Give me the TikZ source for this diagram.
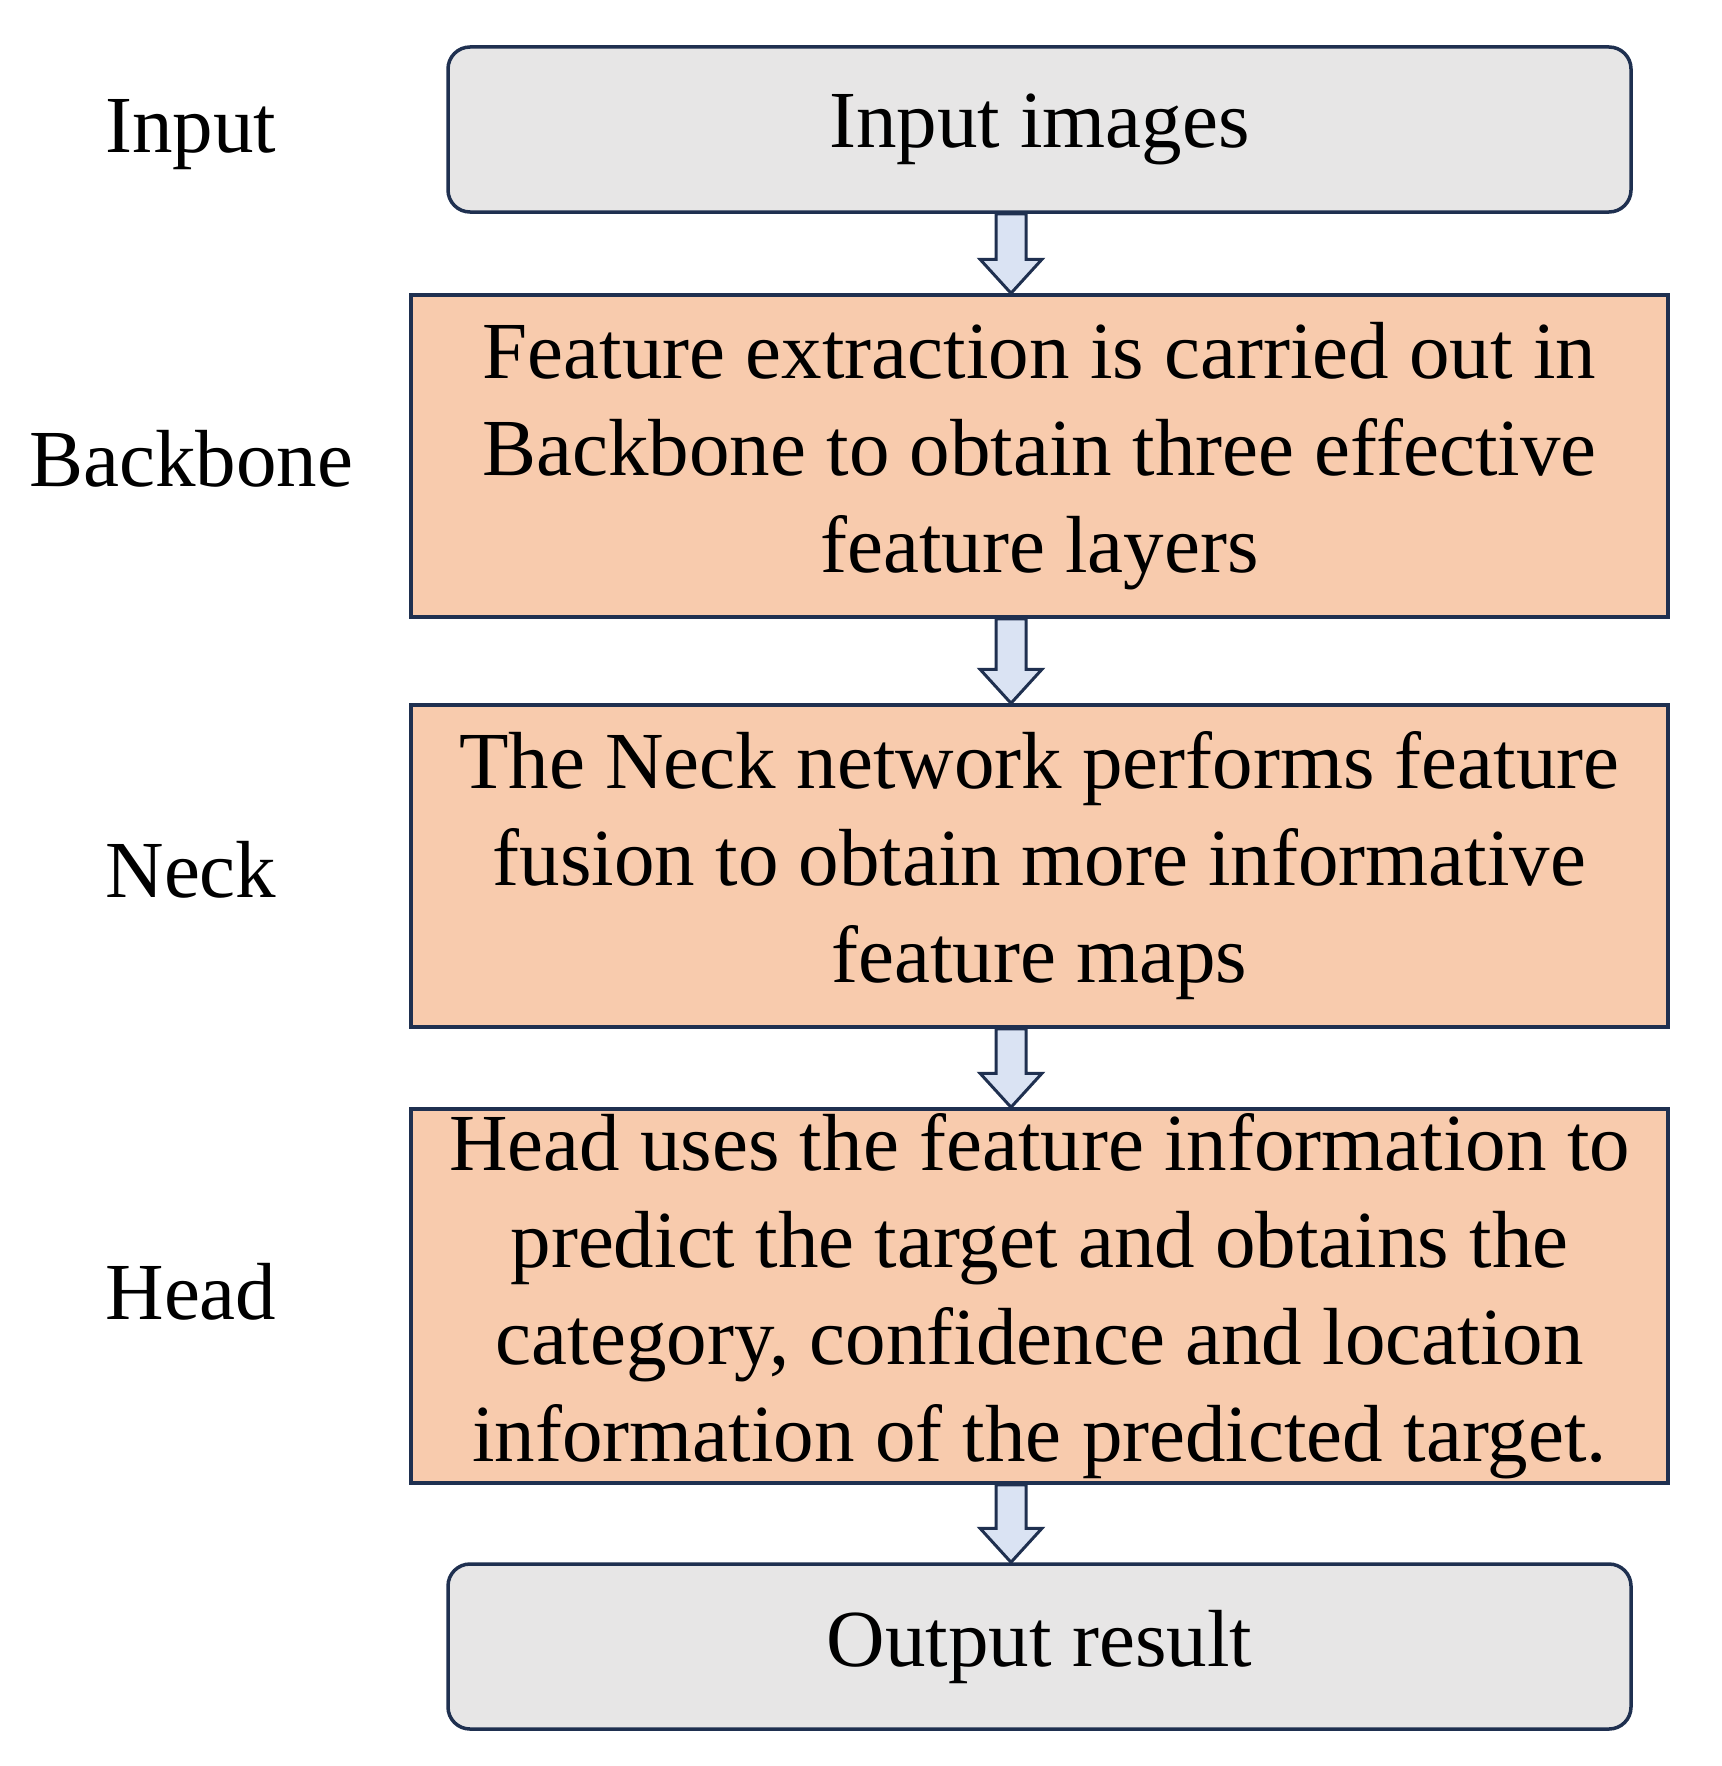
\documentclass[tikz,border=0pt]{standalone}
\usepackage{fontspec}
\setmainfont{Liberation Serif}
\usetikzlibrary{calc}
\begin{document}
\begin{tikzpicture}[x=1pt,y=-1pt,
  every node/.style={font=\fontsize{81}{97}\selectfont},
  box/.style={draw=navy,line width=3.5pt,fill=peach,align=center,inner sep=0pt},
  gbox/.style={draw=navy,line width=3.5pt,fill=lgray,rounded corners=22pt,align=center,inner sep=0pt},
  lab/.style={align=center},
  arr/.style={draw=navy,line width=3pt,fill=lblue,line join=miter}]
\definecolor{navy}{HTML}{1F3050}
\definecolor{peach}{HTML}{F8CBAD}
\definecolor{lgray}{HTML}{E7E6E6}
\definecolor{lblue}{HTML}{DAE3F3}
\useasboundingbox (0,0) rectangle (1721,1766);
\node[gbox,minimum width=1183pt,minimum height=165pt] (b1) at (1039.5,129.5) {Input images};
\node[box,minimum width=1257pt,minimum height=322pt] (b2) at (1039.5,456) {Feature extraction is carried out in\\Backbone to obtain three effective\\feature layers};
\node[box,minimum width=1257pt,minimum height=322pt] (b3) at (1039.5,866) {The Neck network performs feature\\fusion to obtain more informative\\feature maps};
\node[box,minimum width=1257pt,minimum height=374pt] (b4) at (1039.5,1296) {Head uses the feature information to\\predict the target and obtains the\\category, confidence and location\\information of the predicted target.};
\node[gbox,minimum width=1183pt,minimum height=165pt] (b5) at (1039.5,1646.5) {Output result};
\node[lab] (l1) at (191,135) {Input};
\node[lab] (l2) at (191,459) {Backbone};
\node[lab] (l3) at (191,870) {Neck};
\node[lab] (l4) at (191,1292) {Head};
\foreach \a/\b in {b1/b2,b2/b3,b3/b4,b4/b5}{
  \draw[arr] let \p1=(\a.south), \p2=(\b.north) in
    (1011-15,\y1) -- (1011-15,\y2+34) -- (1011-31,\y2+34) -- (1011,\y2) --
    (1011+31,\y2+34) -- (1011+15,\y2+34) -- (1011+15,\y1) -- cycle;
}
\end{tikzpicture}
\end{document}
